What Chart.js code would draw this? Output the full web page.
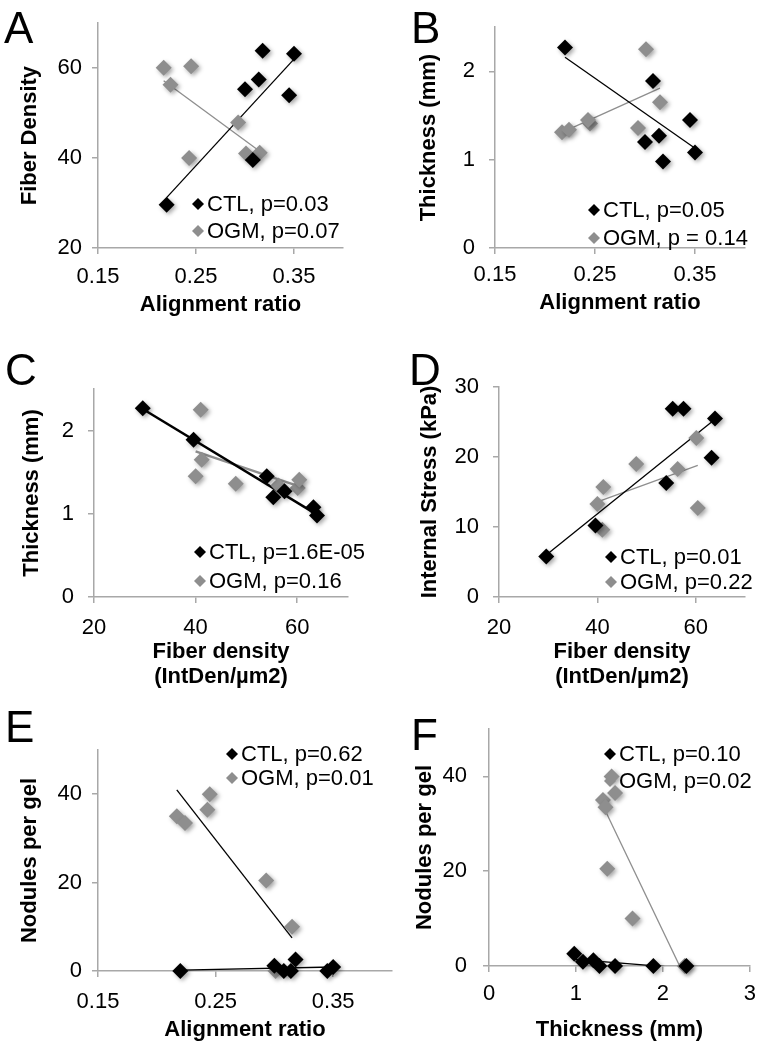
<!DOCTYPE html>
<html>
<head>
  <title>Gel panels A-F</title>
  <script src="https://cdn.jsdelivr.net/npm/chart.js"></script>
  <style>
    body { margin: 0; background: #fff; }
    #wrap { position: relative; width: 765px; height: 1050px; }
    #wrap canvas { position: absolute; }
  </style>
</head>
<body>
  <div id="wrap">
    <canvas id="panelA" width="382" height="320" style="left:0px;top:0px"></canvas>
    <canvas id="panelB" width="383" height="320" style="left:382px;top:0px"></canvas>
    <canvas id="panelC" width="382" height="370" style="left:0px;top:320px"></canvas>
    <canvas id="panelD" width="383" height="370" style="left:382px;top:320px"></canvas>
    <canvas id="panelE" width="400" height="360" style="left:0px;top:690px"></canvas>
    <canvas id="panelF" width="383" height="360" style="left:382px;top:690px"></canvas>
  </div>

  <script>
    const FONT = '"Liberation Sans", Arial, sans-serif';
    const CTL_COLOR = '#000000';
    const OGM_COLOR = '#8e8e8e';
    const AXIS_COLOR = '#a8a8a8';

    // CTL gels, one entry per gel (same order in every array)
    const ctlAlign   = [0.220, 0.308, 0.345, 0.300, 0.314, 0.350, 0.318];
    const ctlFiber   = [29.6, 39.6, 54.0, 55.3, 57.5, 63.2, 63.9];
    const ctlThick   = [2.27, 1.89, 1.45, 1.20, 1.27, 1.08, 0.98];
    const ctlStress  = [5.8, 10.2, 16.3, 26.9, 26.9, 19.9, 25.5];
    const ctlNodules = [0, 0, 0, 1.2, 0, 0.9, 2.6];

    // OGM gels
    const ogmAlign   = [0.217, 0.245, 0.224, 0.293, 0.243, 0.301, 0.315];
    const ogmFiber   = [60.1, 60.4, 56.3, 47.9, 40.0, 41.0, 41.2];
    const ogmThick   = [1.31, 1.41, 1.34, 1.36, 1.45, 2.25, 1.65];
    const ogmStress  = [22.7, 12.7, 18.3, 19.0, 13.3, 9.6, 15.7];
    const ogmNodules = [35, 40, 33.5, 20.5, 36.5, 0, 10];

    // tick labels
    const alignTicks  = [0.15, 0.25, 0.35];
    const fiberTicks  = [20, 40, 60];
    const thickTicks  = [0, 1, 2];
    const thickXTicks = [0, 1, 2, 3];
    const stressTicks = [0, 10, 20, 30];
    const noduleTicks = [0, 20, 40];

    // linear trendlines, end points [x, y]
    const trendActl = [[0.220, 31.2], [0.350, 62.0]];
    const trendAogm = [[0.217, 57.2], [0.315, 41.5]];
    const trendBctl = [[0.220, 2.16], [0.350, 1.13]];
    const trendBogm = [[0.217, 1.31], [0.315, 1.81]];
    const trendCctl = [[29.6, 2.26], [63.9, 0.99]];
    const trendCogm = [[40.0, 1.75], [60.4, 1.33]];
    const trendDctl = [[29.6, 6.0], [63.9, 25.4]];
    const trendDogm = [[40.0, 13.6], [60.4, 18.8]];
    const trendEctl = [[0.220, 0.2], [0.350, 0.9]];
    const trendEogm = [[0.217, 41.0], [0.315, 7.5]];
    const trendFctl = [[0.98, 1.4], [2.27, -0.5]];
    const trendFogm = [[1.31, 33.8], [2.25, -2.2]];

    // legend texts
    const legendA = ['CTL, p=0.03', 'OGM, p=0.07'];
    const legendB = ['CTL, p=0.05', 'OGM, p = 0.14'];
    const legendC = ['CTL, p=1.6E-05', 'OGM, p=0.16'];
    const legendD = ['CTL, p=0.01', 'OGM, p=0.22'];
    const legendE = ['CTL, p=0.62', 'OGM, p=0.01'];
    const legendF = ['CTL, p=0.10', 'OGM, p=0.02'];

    function pts(xs, ys) { return xs.map((x, i) => ({ x: x, y: ys[i] })); }
    function seg(line) { return line.map(p => ({ x: p[0], y: p[1] })); }

    // soft drop shadow under the diamonds, like the Excel markers
    const markerShadow = {
      id: 'markerShadow',
      beforeDatasetDraw(chart, args) {
        if (chart.data.datasets[args.index].showLine) return;
        const ctx = chart.ctx;
        ctx.save();
        ctx.shadowColor = 'rgba(0,0,0,0.35)';
        ctx.shadowBlur = 4;
        ctx.shadowOffsetX = 2;
        ctx.shadowOffsetY = 2;
      },
      afterDatasetDraw(chart, args) {
        if (chart.data.datasets[args.index].showLine) return;
        chart.ctx.restore();
      }
    };

    // panel letter and the legend that sits inside the plot area
    const panelDecor = {
      id: 'panelDecor',
      afterDraw(chart, args, opts) {
        const ctx = chart.ctx;
        ctx.save();
        ctx.fillStyle = '#000';
        ctx.font = '44px ' + FONT;
        ctx.textBaseline = 'alphabetic';
        ctx.fillText(opts.letter, opts.letterAt[0], opts.letterAt[1]);

        ctx.font = '22px ' + FONT;
        ctx.textBaseline = 'middle';
        chart.data.datasets.filter(d => d.label).forEach((d, i) => {
          const x = opts.legendAt[0];
          const y = opts.legendAt[1] + i * opts.legendGap;
          ctx.fillStyle = d.backgroundColor;
          ctx.beginPath();
          ctx.moveTo(x - 6, y);
          ctx.lineTo(x, y - 6);
          ctx.lineTo(x + 6, y);
          ctx.lineTo(x, y + 6);
          ctx.closePath();
          ctx.fill();
          ctx.fillStyle = '#000';
          ctx.fillText(d.label, x + 9, y + 1);
        });
        ctx.restore();
      }
    };

    function makePanel(id, p) {
      const canvas = document.getElementById(id);
      const W = canvas.width, H = canvas.height;
      const a = p.area;
      const tickFont = { family: FONT, size: 22 };
      const titleFont = { family: FONT, size: 22, weight: 'bold', lineHeight: 1.15 };
      const lineW = p.lineW || 1.3;

      function axis(min, max, ticks, pad, title, titlePad) {
        return {
          type: 'linear',
          min: min,
          max: max,
          afterBuildTicks: s => { s.ticks = ticks.map(v => ({ value: v })); },
          border: { display: true, color: AXIS_COLOR, width: 1.5 },
          grid: { drawOnChartArea: false, drawTicks: true, tickLength: 6, color: AXIS_COLOR, lineWidth: 1.5 },
          ticks: { font: tickFont, color: '#000', padding: pad, maxRotation: 0, autoSkip: false, callback: v => String(v) },
          title: { display: true, text: title, font: titleFont, color: '#000', padding: titlePad }
        };
      }

      const xAxis = axis(p.xRange[0], p.xRange[1], p.xTicks, p.xPad, p.xTitle, { top: 0, bottom: p.xTitlePad });
      xAxis.afterFit = s => { s.height = H - a.bottom; };
      const yAxis = axis(p.yRange[0], p.yRange[1], p.yTicks, p.yPad, p.yTitle, { top: p.yTitlePad, bottom: 0 });
      yAxis.afterFit = s => { s.width = a.left; };

      return new Chart(canvas.getContext('2d'), {
        type: 'scatter',
        data: {
          datasets: [
            { label: p.legend[0], data: pts(p.ctl[0], p.ctl[1]), backgroundColor: CTL_COLOR, borderColor: CTL_COLOR,
              pointStyle: 'rectRot', pointRadius: 8, pointBorderWidth: 0, clip: false },
            { label: p.legend[1], data: pts(p.ogm[0], p.ogm[1]), backgroundColor: OGM_COLOR, borderColor: OGM_COLOR,
              pointStyle: 'rectRot', pointRadius: 8, pointBorderWidth: 0, clip: false },
            { data: seg(p.trendCtl), showLine: true, borderColor: CTL_COLOR, borderWidth: lineW, pointRadius: 0 },
            { data: seg(p.trendOgm), showLine: true, borderColor: p.ogmTrendColor || OGM_COLOR, borderWidth: lineW, pointRadius: 0 }
          ]
        },
        options: {
          responsive: false,
          animation: false,
          layout: { padding: { left: 0, top: a.top, right: W - a.right, bottom: 0 } },
          plugins: {
            legend: { display: false },
            tooltip: { enabled: false },
            panelDecor: { letter: p.letter, letterAt: p.letterAt, legendAt: p.legendAt, legendGap: p.legendGap }
          },
          scales: { x: xAxis, y: yAxis }
        },
        plugins: [markerShadow, panelDecor]
      });
    }

    makePanel('panelA', {
      letter: 'A', letterAt: [4, 43],
      area: { left: 98, top: 22, right: 343, bottom: 248 },
      xRange: [0.15, 0.40], xTicks: alignTicks, xPad: 10, xTitle: 'Alignment ratio', xTitlePad: 2,
      yRange: [20, 70], yTicks: fiberTicks, yPad: 10, yTitle: 'Fiber Density', yTitlePad: 17,
      ctl: [ctlAlign, ctlFiber], ogm: [ogmAlign, ogmFiber],
      trendCtl: trendActl, trendOgm: trendAogm,
      legend: legendA, legendAt: [198, 204], legendGap: 27
    });

    makePanel('panelB', {
      letter: 'B', letterAt: [29, 43],
      area: { left: 113, top: 22, right: 363, bottom: 248 },
      xRange: [0.15, 0.40], xTicks: alignTicks, xPad: 8, xTitle: 'Alignment ratio', xTitlePad: 4,
      yRange: [0, 2.5], yTicks: thickTicks, yPad: 14, yTitle: 'Thickness (mm)', yTitlePad: 34,
      ctl: [ctlAlign, ctlThick], ogm: [ogmAlign, ogmThick],
      trendCtl: trendBctl, trendOgm: trendBogm,
      legend: legendB, legendAt: [212, 210], legendGap: 28
    });

    makePanel('panelC', {
      letter: 'C', letterAt: [5, 65],
      area: { left: 94, top: 69, right: 348, bottom: 277 },
      xRange: [20, 70], xTicks: fiberTicks, xPad: 12, xTitle: ['Fiber density', '(IntDen/µm2)'], xTitlePad: 0,
      yRange: [0, 2.5], yTicks: thickTicks, yPad: 14, yTitle: 'Thickness (mm)', yTitlePad: 19,
      ctl: [ctlFiber, ctlThick], ogm: [ogmFiber, ogmThick],
      trendCtl: trendCctl, trendOgm: trendCogm, lineW: 2.5,
      legend: legendC, legendAt: [200, 232], legendGap: 29
    });

    makePanel('panelD', {
      letter: 'D', letterAt: [27, 65],
      area: { left: 117, top: 67, right: 363, bottom: 277 },
      xRange: [20, 70], xTicks: fiberTicks, xPad: 12, xTitle: ['Fiber density', '(IntDen/µm2)'], xTitlePad: 0,
      yRange: [0, 30], yTicks: stressTicks, yPad: 14, yTitle: 'Internal Stress (kPa)', yTitlePad: 35,
      ctl: [ctlFiber, ctlStress], ogm: [ogmFiber, ogmStress],
      trendCtl: trendDctl, trendOgm: trendDogm,
      legend: legendD, legendAt: [229, 237], legendGap: 25
    });

    makePanel('panelE', {
      letter: 'E', letterAt: [5, 52],
      area: { left: 98, top: 60, right: 395, bottom: 281 },
      xRange: [0.15, 0.40], xTicks: alignTicks, xPad: 12, xTitle: 'Alignment ratio', xTitlePad: 7,
      yRange: [0, 50], yTicks: noduleTicks, yPad: 10, yTitle: 'Nodules per gel', yTitlePad: 17,
      ctl: [ctlAlign, ctlNodules], ogm: [ogmAlign, ogmNodules],
      trendCtl: trendEctl, trendOgm: trendEogm, ogmTrendColor: CTL_COLOR,
      legend: legendE, legendAt: [232, 64], legendGap: 24
    });

    makePanel('panelF', {
      letter: 'F', letterAt: [29, 60],
      area: { left: 107, top: 39, right: 372, bottom: 276 },
      xRange: [0, 3], xTicks: thickXTicks, xPad: 9, xTitle: 'Thickness (mm)', xTitlePad: 7,
      yRange: [0, 50], yTicks: noduleTicks, yPad: 16, yTitle: 'Nodules per gel', yTitlePad: 30,
      ctl: [ctlThick, ctlNodules], ogm: [ogmThick, ogmNodules],
      trendCtl: trendFctl, trendOgm: trendFogm,
      legend: legendF, legendAt: [228, 64], legendGap: 27
    });
  </script>
</body>
</html>
